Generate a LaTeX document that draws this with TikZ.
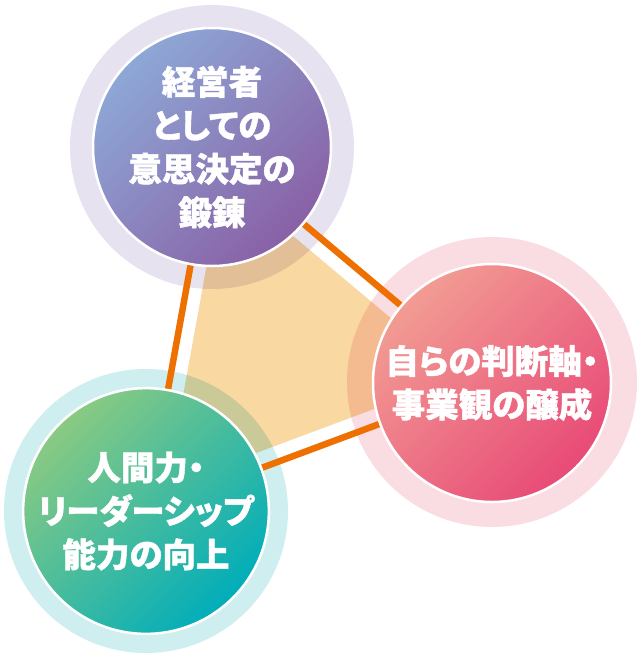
\documentclass[tikz,border=0pt]{standalone}
\usepackage{fontspec}
\newfontfamily\jp[RawFeature=+palt, BoldFeatures={FakeBold=1.2}]{Noto Sans CJK JP}
\usetikzlibrary{calc}
\definecolor{ringT}{HTML}{E7E2EF}
\definecolor{ringR}{HTML}{FADDE3}
\definecolor{ringL}{HTML}{CFEEF0}
\definecolor{polyc}{HTML}{FAD8A2}
\definecolor{linkc}{HTML}{EE7000}
\definecolor{tA}{HTML}{8DA8D6}
\definecolor{tB}{HTML}{8A72B0}
\definecolor{tC}{HTML}{8960A5}
\definecolor{rA}{HTML}{F29C93}
\definecolor{rB}{HTML}{EB6782}
\definecolor{rC}{HTML}{E84A77}
\definecolor{lA}{HTML}{8ACA82}
\definecolor{lB}{HTML}{16B1AC}
\definecolor{lC}{HTML}{00ADBA}
\tikzset{
  ring/.style={circle, inner sep=0pt, minimum size=284pt},
  disc/.style={circle, inner sep=0pt, minimum size=238pt, draw=white, line width=2.5pt,
    text=white, align=center,
    font=\jp\bfseries\fontsize{33.5pt}{43.5pt}\selectfont},
  link/.style={draw=linkc, line width=6.5pt},
}
\begin{document}
\begin{tikzpicture}[x=1pt,y=-1pt]
\useasboundingbox (0,0) rectangle (640,659);
% outer pale rings
\node[ring, fill=ringT] (topring) at (212,147) {};
\node[ring, fill=ringR, minimum size=290pt] (rightring) at (492,382) {};
\node[ring, fill=ringL] (leftring) at (146,511) {};
\coordinate (G) at (283.3,346.7);
% central area
\begin{scope}[blend mode=multiply]
\fill[polyc] ($(G)!0.85!(topring.center)$) -- ($(G)!0.85!(rightring.center)$) -- ($(G)!0.85!(leftring.center)$) -- cycle;
\end{scope}
% connectors
\draw[link] (topring.center) -- (rightring.center);
\draw[link] (rightring.center) -- (leftring.center);
\draw[link] (leftring.center) -- (topring.center);
% inner discs
\node[disc, top color=tA, middle color=tB, bottom color=tC, shading angle=45] (top) at (212,147)
  {経営者\\としての\\意思決定の\\鍛錬};
\node[disc, top color=rA, middle color=rB, bottom color=rC, shading angle=45] (right) at (492,383)
  {自らの判断軸・\\事業観の醸成};
\node[disc, top color=lA, middle color=lB, bottom color=lC, shading angle=45] (left) at (146,511)
  {人間力・\\リーダーシップ\\能力の向上};
\end{tikzpicture}
\end{document}
